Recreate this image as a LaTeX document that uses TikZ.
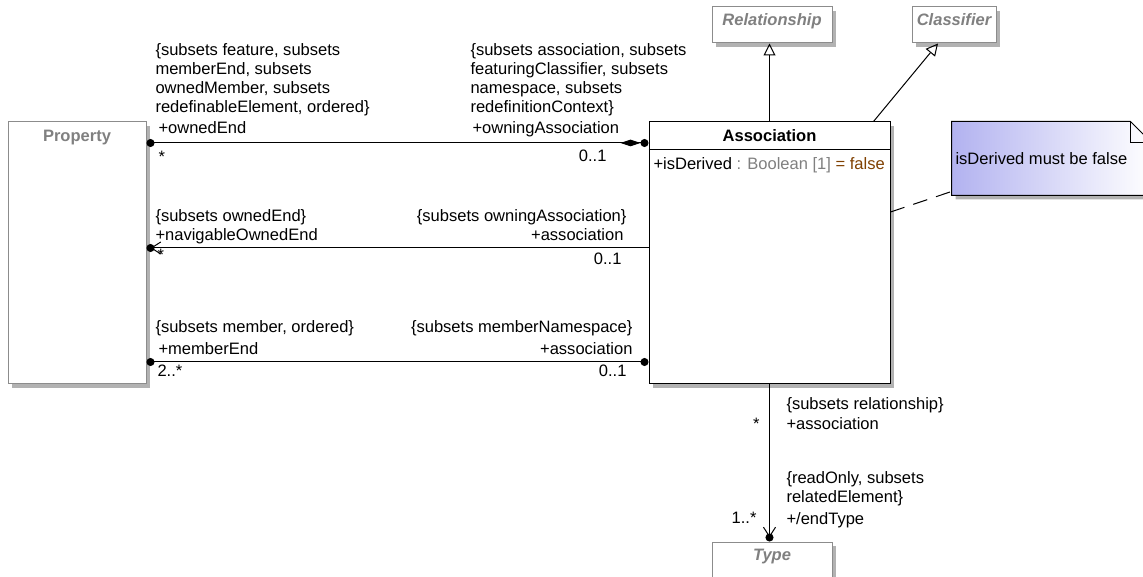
\documentclass[tikz,border=0pt]{standalone}
\usepackage{fontspec}
\setmainfont{Liberation Sans}
\usetikzlibrary{arrows.meta,shadows}

\definecolor{umlgray}{RGB}{128,128,128}
\definecolor{boxgray}{RGB}{140,140,140}
\definecolor{valbrown}{RGB}{128,64,0}
\definecolor{notebl}{RGB}{178,178,240}

\begin{document}
\begin{tikzpicture}[x=0.75pt,y=-0.75pt,line width=0.75pt,
  font=\fontsize{12.4}{14.25}\selectfont,
  every node/.style={inner sep=0pt},
  shadowed/.style={drop shadow={shadow xshift=3pt,shadow yshift=-3pt,fill=black!30,opacity=1}},
  classbox/.style={draw=black,fill=white,shadowed},
  ghostbox/.style={draw=boxgray,fill=white,shadowed},
  ghosttitle/.style={anchor=base,text=umlgray,font=\fontsize{12.4}{14.25}\selectfont\bfseries\itshape},
  openend/.style={-{Straight Barb[length=7pt,width=9pt,sep=-3pt]Circle[length=6pt]}}]
\useasboundingbox (0,0) rectangle (1143,577);

% classes
\node[ghostbox,minimum width=103.5pt,minimum height=196.5pt] (prop) at (77,253) {};
\node[anchor=base,text=umlgray,font=\fontsize{12.4}{14.25}\selectfont\bfseries] (proptitle) at (77,142) {Property};
\node[classbox,minimum width=180.75pt,minimum height=196.5pt] (asc) at (769.5,253) {};
\node[anchor=base,font=\fontsize{12.4}{14.25}\selectfont\bfseries] (asctitle) at (769.5,142) {Association};
\draw ([yshift=-21pt]asc.north west) -- ([yshift=-21pt]asc.north east);
\node[anchor=base west] (attr) at (653,170) {+isDerived \textcolor{umlgray}{: Boolean [1]} \textcolor{valbrown}{= false}};
\node[ghostbox,minimum width=90pt,minimum height=27pt] (rel) at (772,25) {};
\node[ghosttitle] (reltitle) at (772,26) {Relationship};
\node[ghostbox,minimum width=63pt,minimum height=27pt] (cls) at (954,25) {};
\node[ghosttitle] (clstitle) at (954,26) {Classifier};
\node[ghostbox,minimum width=90pt,minimum height=27pt] (type) at (772,560) {};
\node[ghosttitle] (typetitle) at (772,560) {Type};

% note
\node[minimum width=149.25pt,minimum height=54.75pt] (note) at (1051.5,158.5) {};
\draw[left color=notebl,right color=white,shadowed] (note.south west) -- (note.north west)
  -- ([xshift=-15.75pt]note.north east) -- ([yshift=-15.75pt]note.north east) -- (note.south east) -- cycle;
\draw ([xshift=-15.75pt]note.north east) -- ++(0,21) -- ++(21,0);
\node[anchor=base west] (notetxt) at (955,165) {isDerived must be false};
\draw[dash pattern=on 11pt off 7pt] (asc.east |- 0,212) -- ([yshift=3pt]note.south west);

% generalizations
\draw[-{Triangle[open,length=9pt,width=9pt]}] (asc.north) -- (asc.north |- rel.south);
\draw[-{Triangle[open,length=9pt,width=9pt]}] ([xshift=-12.75pt]asc.north east) -- ([xshift=-12pt]cls.south);

% ownedEnd / owningAssociation
\draw[{Circle[length=6pt]}-{Diamond[length=15pt,width=5pt]Circle[length=6pt]}] (prop.east |- 0,143) -- (asc.west |- 0,143);
\node[anchor=north west,align=left] (sub1l) at (155,43) {\{subsets feature, subsets\\memberEnd, subsets\\ownedMember, subsets\\redefinableElement, ordered\}};
\node[anchor=base west] (role1l) at (158,134) {+ownedEnd};
\node[anchor=base west] (mul1l) at (158,163) {*};
\node[anchor=north west,align=left] (sub1r) at (470,43) {\{subsets association, subsets\\featuringClassifier, subsets\\namespace, subsets\\redefinitionContext\}};
\node[anchor=base west] (role1r) at (472,134) {+owningAssociation};
\node[anchor=base east] (mul1r) at (607,162) {0..1};

% navigableOwnedEnd / association
\draw[openend] (asc.west |- 0,248) -- (prop.east |- 0,248);
\node[anchor=base west] (sub2l) at (155,222) {\{subsets ownedEnd\}};
\node[anchor=base west] (role2l) at (155,241) {+navigableOwnedEnd};
\node[anchor=base west] (mul2l) at (157,261) {*};
\node[anchor=base east] (sub2r) at (627,222) {\{subsets owningAssociation\}};
\node[anchor=base east] (role2r) at (624,241) {+association};
\node[anchor=base east] (mul2r) at (622,265) {0..1};

% memberEnd / association
\draw[{Circle[length=6pt]}-{Circle[length=6pt]}] (prop.east |- 0,362) -- (asc.west |- 0,362);
\node[anchor=base west] (sub3l) at (155,333) {\{subsets member, ordered\}};
\node[anchor=base west] (role3l) at (158,355) {+memberEnd};
\node[anchor=base west] (mul3l) at (157,377) {2..*};
\node[anchor=base east] (sub3r) at (633,333) {\{subsets memberNamespace\}};
\node[anchor=base east] (role3r) at (633,355) {+association};
\node[anchor=base east] (mul3r) at (627,377) {0..1};

% endType
\draw[openend] (asc.south) -- (asc.south |- type.north);
\node[anchor=base west] (sub4a) at (786,410) {\{subsets relationship\}};
\node[anchor=base west] (role4a) at (786,430) {+association};
\node[anchor=base east] (mul4a) at (760,430) {*};
\node[anchor=north west,align=left] (sub4b) at (786,471) {\{readOnly, subsets\\relatedElement\}};
\node[anchor=base west] (role4b) at (786,524) {+/endType};
\node[anchor=base east] (mul4b) at (757,523) {1..*};
\end{tikzpicture}
\end{document}
